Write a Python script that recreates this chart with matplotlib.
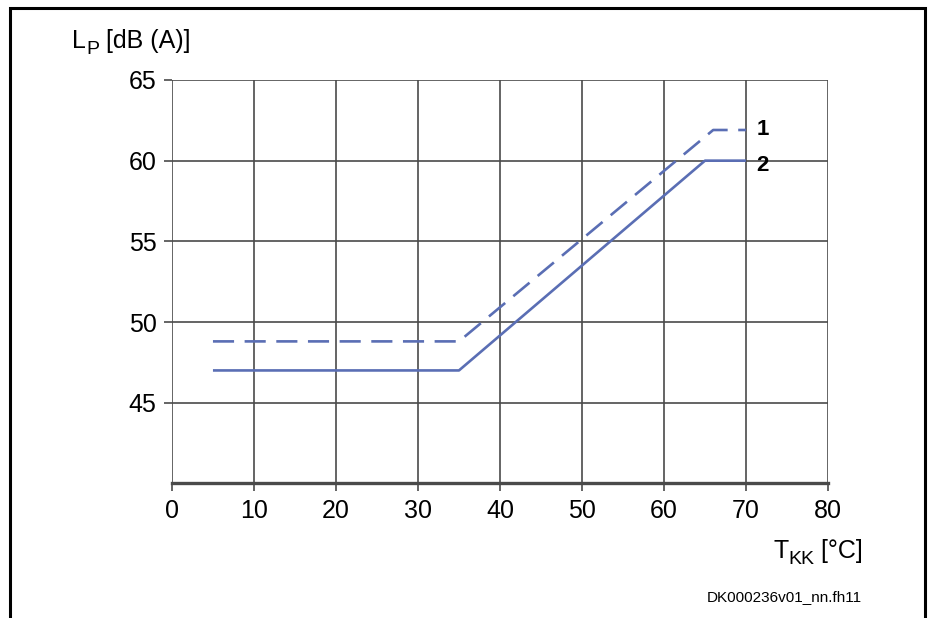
import matplotlib.pyplot as plt
from matplotlib.patches import Rectangle

plt.rcParams['font.family'] = ['Liberation Sans', 'DejaVu Sans']

# curve 1 (dashed) and curve 2 (solid)
x1 = [5, 35, 66, 70]
y1 = [48.8, 48.8, 61.9, 61.9]
x2 = [5, 35, 65, 70]
y2 = [47.0, 47.0, 60.0, 60.0]

xticks = [0, 10, 20, 30, 40, 50, 60, 70, 80]
yticks = [45, 50, 55, 60, 65]

farbe = '#5a6eb4'
grau = '#4a4a4a'

fig = plt.figure(figsize=(9.3, 6.18), dpi=100)
ax = fig.add_axes([0.1849, 0.2178, 0.7054, 0.6528])

ax.plot(x2, y2, color=farbe, lw=1.9, solid_capstyle='butt')
ax.plot(x1, y1, color=farbe, lw=1.9, dashes=(8, 4), dash_capstyle='butt')

ax.set_xlim(0, 80)
ax.set_ylim(40, 65)
ax.set_xticks(xticks)
ax.set_yticks(yticks)
ax.grid(True, color=grau, lw=1.2)
for s in ['top', 'right', 'left']:
    ax.spines[s].set_visible(False)
ax.spines['bottom'].set_color(grau)
ax.spines['bottom'].set_linewidth(2.4)
ax.tick_params(axis='x', length=6, width=1.2, color=grau, labelsize=18, pad=5)
ax.tick_params(axis='y', length=6, width=1.2, color=grau, labelsize=18, pad=5)

ax.text(71.3, 61.9, '1', fontsize=16, fontweight='bold', va='center', ha='left')
ax.text(71.3, 59.7, '2', fontsize=16, fontweight='bold', va='center', ha='left')

renderer = fig.canvas.get_renderer()


def label_mit_index(x_px, y_px, haupt, index, rest, rechts=False):
    # text with a real subscript, built from three pieces
    teile = [(haupt, 18, 0), (index, 14, -6), (rest, 18, 0)]
    breiten = []
    for t, fs, dy in teile:
        tmp = fig.text(0, 0, t, fontsize=fs)
        breiten.append(tmp.get_window_extent(renderer).width)
        tmp.remove()
    x = x_px - sum(breiten) if rechts else x_px
    for (t, fs, dy), b in zip(teile, breiten):
        fig.text(x / 930, 1 - (y_px - dy) / 618, t, fontsize=fs, va='baseline', ha='left')
        x += b


label_mit_index(72, 48, 'L', 'P', ' [dB (A)]')
label_mit_index(863, 558, 'T', 'KK', ' [°C]', rechts=True)
fig.text(862 / 930, 1 - 597 / 618, 'DK000236v01_nn.fh11', fontsize=11, va='center', ha='right')

fig.patches.append(Rectangle((10 / 930, -0.05), 915 / 930, 1.05 - 8 / 618,
                             transform=fig.transFigure, fill=False, ec='black', lw=2.2))

fig.savefig('out.png', dpi=100)
